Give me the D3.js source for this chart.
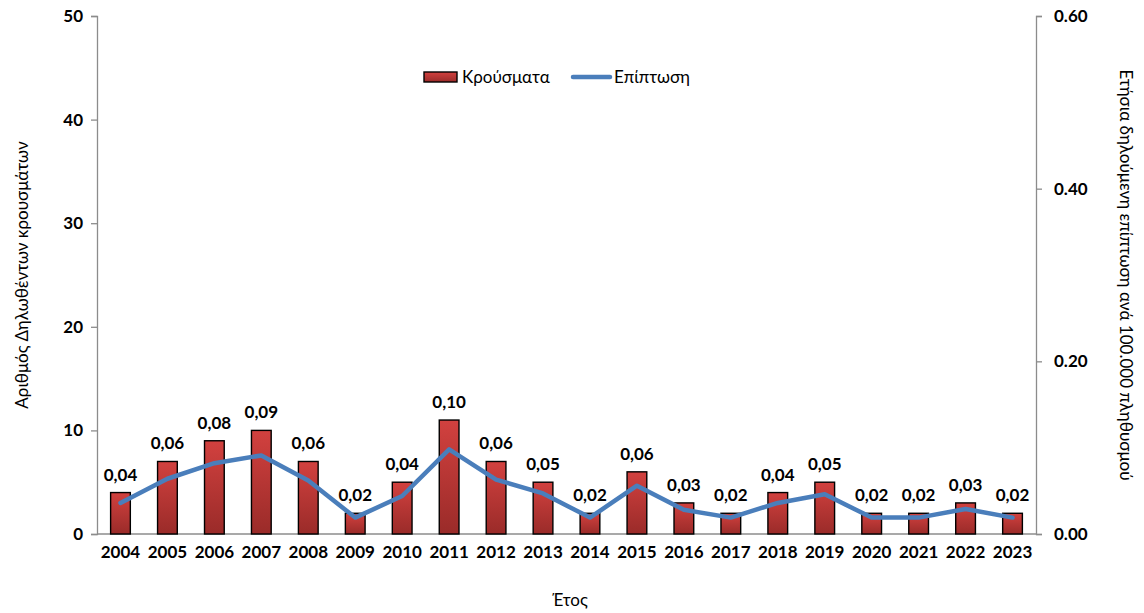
<!DOCTYPE html>
<html>
<head>
<meta charset="utf-8">
<script src="https://cdn.jsdelivr.net/npm/d3@7"></script>
<style>
html,body{margin:0;padding:0;background:#fff;}
svg text{font-family:Lato,"Open Sans",sans-serif;}
</style>
</head>
<body>
<svg id="chart" width="1144" height="613"></svg>
<script>
const years = ["2004","2005","2006","2007","2008","2009","2010","2011","2012","2013","2014","2015","2016","2017","2018","2019","2020","2021","2022","2023"];
const cases = [4,7,9,10,7,2,5,11,7,5,2,6,3,2,4,5,2,2,3,2];
const incidence = [0.036,0.064,0.082,0.091,0.062,0.019,0.044,0.098,0.063,0.047,0.019,0.056,0.028,0.019,0.036,0.046,0.019,0.019,0.029,0.019];
const valueLabels = ["0,04","0,06","0,08","0,09","0,06","0,02","0,04","0,10","0,06","0,05","0,02","0,06","0,03","0,02","0,04","0,05","0,02","0,02","0,03","0,02"];
const leftTicks = [0,10,20,30,40,50];
const rightTicks = [0,0.2,0.4,0.6];

const svg = d3.select("#chart");
const m = {left:97, right:1036, top:16, bottom:534};

const defs = svg.append("defs");
const grad = defs.append("linearGradient").attr("id","barGrad").attr("x1",0).attr("y1",0).attr("x2",0).attr("y2",1);
grad.append("stop").attr("offset","0%").attr("stop-color","#d2413f");
grad.append("stop").attr("offset","100%").attr("stop-color","#9a2b29");

const x = d3.scaleBand().domain(years).range([m.left, m.right]).paddingInner(0.58).paddingOuter(0.29);
const yL = d3.scaleLinear().domain([0,50]).range([m.bottom, m.top]);
const yR = d3.scaleLinear().domain([0,0.6]).range([m.bottom, m.top]);

// axes
const axisColor = "#8c8c8c";
const gL = svg.append("g").attr("transform",`translate(${m.left},0)`)
  .call(d3.axisLeft(yL).tickValues(leftTicks).tickSize(6).tickPadding(8).tickFormat(d3.format("d")));
const gR = svg.append("g").attr("transform",`translate(${m.right},0)`)
  .call(d3.axisRight(yR).tickValues(rightTicks).tickSize(6).tickPadding(12).tickFormat(d3.format(".2f")));
const gB = svg.append("g").attr("transform",`translate(0,${m.bottom})`)
  .call(d3.axisBottom(x).tickSize(0).tickPadding(12));
[gL,gR,gB].forEach(g=>{
  g.selectAll("path").attr("stroke",axisColor).attr("stroke-width",1.3);
  g.selectAll("line").attr("stroke",axisColor).attr("stroke-width",1.3);
  g.selectAll("text").attr("font-size",17).attr("font-weight","bold").attr("fill","#000")
   .style("font-family","Lato,'Open Sans',sans-serif");
});
gB.select(".domain").attr("d",`M${m.left},0H${m.right}`);

// bars
svg.append("g").selectAll("rect").data(years).join("rect")
  .attr("x", d=>x(d)).attr("width", x.bandwidth())
  .attr("y", (d,i)=>yL(cases[i])).attr("height",(d,i)=>yL(0)-yL(cases[i]))
  .attr("fill","url(#barGrad)").attr("stroke","#000").attr("stroke-width",1.4);

// line
const line = d3.line().x((d,i)=>x(years[i])+x.bandwidth()/2).y(d=>yR(d));
svg.append("path").datum(incidence).attr("d",line)
  .attr("fill","none").attr("stroke","#4a7ebb").attr("stroke-width",4.5).attr("stroke-linejoin","round").attr("stroke-linecap","round");

// labels
svg.append("g").selectAll("text").data(years).join("text")
  .attr("x", d=>x(d)+x.bandwidth()/2).attr("y",(d,i)=>yL(cases[i])-12)
  .attr("text-anchor","middle").attr("font-size",17).attr("font-weight","bold")
  .text((d,i)=>valueLabels[i]);

// axis titles
svg.append("text").attr("transform","translate(28,275) rotate(-90)").attr("text-anchor","middle")
  .attr("font-size",17).text("Αριθμός Δηλωθέντων κρουσμάτων");
svg.append("text").attr("transform","translate(1120,275) rotate(90)").attr("text-anchor","middle")
  .attr("font-size",17).text("Ετήσια δηλούμενη επίπτωση ανά 100.000 πληθυσμού");
svg.append("text").attr("x",570).attr("y",606).attr("text-anchor","middle")
  .attr("font-size",17).text("Έτος");

// legend
const lg = svg.append("g");
lg.append("rect").attr("x",424).attr("y",72).attr("width",33).attr("height",10)
  .attr("fill","url(#barGrad)").attr("stroke","#000").attr("stroke-width",1.4);
lg.append("text").attr("x",462).attr("y",83).attr("font-size",17).text("Κρούσματα");
lg.append("line").attr("x1",573).attr("x2",610).attr("y1",77).attr("y2",77)
  .attr("stroke","#4a7ebb").attr("stroke-width",4.5).attr("stroke-linecap","round");
lg.append("text").attr("x",614).attr("y",83).attr("font-size",17).text("Επίπτωση");
</script>
</body>
</html>
